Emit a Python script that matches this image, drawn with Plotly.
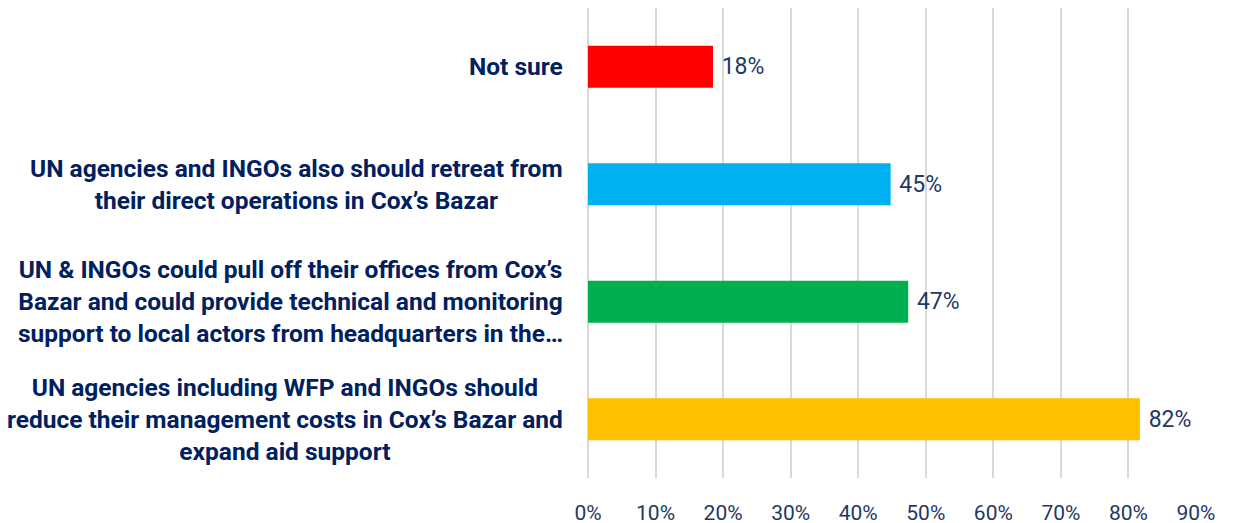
import plotly.graph_objects as go

categories = [
    "Not sure",
    "UN agencies and INGOs also should retreat from<br>their direct operations in Cox’s Bazar",
    "UN & INGOs could pull off their offices from Cox’s<br>Bazar and could provide technical and monitoring<br>support to local actors from headquarters in the…",
    "UN agencies including WFP and INGOs should<br>reduce their management costs in Cox’s Bazar and<br>expand aid support",
]
values = [18.5, 44.8, 47.4, 81.7]
colors = ["#FF0000", "#00B0F0", "#00B050", "#FFC000"]
tick_vals = [0, 10, 20, 30, 40, 50, 60, 70, 80, 90]
tick_text = ["0%", "10%", "20%", "30%", "40%", "50%", "60%", "70%", "80%", "90%"]

NAVY = "#002060"
LABEL_NAVY = "#1F3864"

fig = go.Figure()
fig.add_trace(go.Bar(
    x=values,
    y=categories,
    orientation="h",
    marker=dict(color=colors, line=dict(width=0)),
    text=["\u00a0" + f"{v:.0f}%" for v in values],
    textposition="outside",
    cliponaxis=False,
    textfont=dict(family="Roboto", size=23, color=LABEL_NAVY),
    hoverinfo="skip",
))

for cat in categories:
    fig.add_annotation(
        x=0, xref="paper", y=cat, yref="y",
        text=f"<b>{cat}</b>",
        xanchor="right", yanchor="middle", align="center",
        xshift=-23, showarrow=False,
        font=dict(family="Roboto", size=24.5, color=NAVY),
    )

fig.update_layout(
    width=1233, height=523,
    margin=dict(l=580, r=45, t=0, b=53),
    paper_bgcolor="white", plot_bgcolor="white",
    bargap=0.644,
    showlegend=False,
    xaxis=dict(
        range=[0, 90], tickvals=tick_vals, ticktext=tick_text,
        showgrid=True, gridcolor="#D9D9D9", gridwidth=1.5,
        zeroline=True, zerolinecolor="#D9D9D9", zerolinewidth=1.5,
        showline=False, ticks="",
        tickfont=dict(family="Roboto", size=21, color=LABEL_NAVY),
        ticklabelstandoff=20, automargin=False,
    ),
    yaxis=dict(
        autorange="reversed", showticklabels=False, showgrid=False,
        zeroline=False, showline=False, ticks="", automargin=False,
    ),
)

fig.write_html("out.html")
